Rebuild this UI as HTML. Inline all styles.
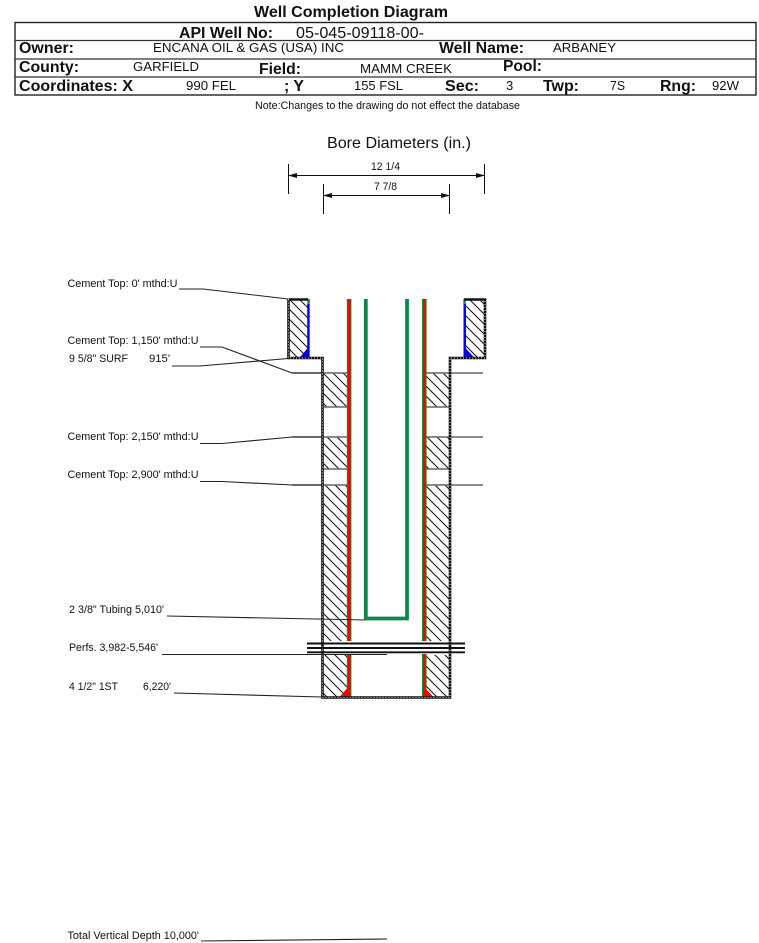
<!DOCTYPE html>
<html><head><meta charset="utf-8"><style>
html,body{margin:0;padding:0;background:#fff}
svg{display:block}
text{font-family:"Liberation Sans",Arial,sans-serif;fill:#111;white-space:pre}
.b{font-weight:bold}
.s{font-size:10.7px}
.m{font-size:13px}
.h{font-size:16px;font-weight:bold}
</style></head><body>
<svg xmlns="http://www.w3.org/2000/svg" width="759" height="943" viewBox="0 0 759 943">
<defs>
<clipPath id="c">
<rect x="288" y="300" width="20" height="58"/><rect x="465" y="300" width="20" height="58"/>
<rect x="323" y="373" width="24" height="34"/><rect x="426" y="373" width="24" height="34"/>
<rect x="323" y="437" width="24" height="32"/><rect x="426" y="437" width="24" height="32"/>
<rect x="323" y="485" width="24" height="156"/><rect x="426" y="485" width="24" height="156"/>
<rect x="323" y="655" width="24" height="42"/><rect x="426" y="655" width="24" height="42"/>
</clipPath>
<marker id="a" markerWidth="9" markerHeight="6" refX="8" refY="3" orient="auto-start-reverse" markerUnits="userSpaceOnUse"><path d="M0 0.5L9 3L0 5.5z" fill="#111"/></marker>
</defs>

<!-- header -->
<text class="b" x="254" y="17" font-size="16" textLength="194" lengthAdjust="spacingAndGlyphs">Well Completion Diagram</text>
<rect x="15" y="22.5" width="741" height="72.5" fill="none" stroke="#222" stroke-width="1.4"/>
<g stroke="#333" stroke-width="1.2"><line x1="15" y1="40.5" x2="756" y2="40.5"/><line x1="15" y1="59" x2="756" y2="59"/><line x1="15" y1="77" x2="756" y2="77"/></g>
<text class="h" x="179" y="38" textLength="94" lengthAdjust="spacingAndGlyphs">API Well No:</text>
<text x="296" y="38" font-size="16" textLength="128" lengthAdjust="spacingAndGlyphs">05-045-09118-00-</text>
<text class="h" x="19" y="53" textLength="55" lengthAdjust="spacingAndGlyphs">Owner:</text>
<text class="m" x="153" y="52" textLength="191" lengthAdjust="spacingAndGlyphs">ENCANA OIL &amp; GAS (USA) INC</text>
<text class="h" x="439" y="53" textLength="85" lengthAdjust="spacingAndGlyphs">Well Name:</text>
<text class="m" x="553" y="52" textLength="63" lengthAdjust="spacingAndGlyphs">ARBANEY</text>
<text class="h" x="19" y="72" textLength="60" lengthAdjust="spacingAndGlyphs">County:</text>
<text class="m" x="133" y="71" textLength="66" lengthAdjust="spacingAndGlyphs">GARFIELD</text>
<text class="h" x="259" y="74" textLength="42" lengthAdjust="spacingAndGlyphs">Field:</text>
<text class="m" x="360" y="73" textLength="92" lengthAdjust="spacingAndGlyphs">MAMM CREEK</text>
<text class="h" x="503" y="71" textLength="39" lengthAdjust="spacingAndGlyphs">Pool:</text>
<text class="h" x="19" y="91" textLength="114" lengthAdjust="spacingAndGlyphs">Coordinates: X</text>
<text class="m" x="186" y="90" textLength="50" lengthAdjust="spacingAndGlyphs">990 FEL</text>
<text class="h" x="284" y="91" textLength="20" lengthAdjust="spacingAndGlyphs">; Y</text>
<text class="m" x="354" y="90" textLength="49" lengthAdjust="spacingAndGlyphs">155 FSL</text>
<text class="h" x="445" y="91" textLength="34" lengthAdjust="spacingAndGlyphs">Sec:</text>
<text class="m" x="506" y="90">3</text>
<text class="h" x="543" y="91" textLength="36" lengthAdjust="spacingAndGlyphs">Twp:</text>
<text class="m" x="610" y="90" textLength="15" lengthAdjust="spacingAndGlyphs">7S</text>
<text class="h" x="660" y="91" textLength="36" lengthAdjust="spacingAndGlyphs">Rng:</text>
<text class="m" x="712" y="90" textLength="27" lengthAdjust="spacingAndGlyphs">92W</text>
<text class="s" x="255" y="109" textLength="265" lengthAdjust="spacingAndGlyphs">Note:Changes to the drawing do not effect the database</text>

<!-- bore diameters -->
<text x="327" y="148" font-size="16" textLength="144" lengthAdjust="spacingAndGlyphs">Bore Diameters (in.)</text>
<text class="s" x="371" y="170" textLength="29" lengthAdjust="spacingAndGlyphs">12 1/4</text>
<text class="s" x="374" y="190" textLength="23" lengthAdjust="spacingAndGlyphs">7 7/8</text>
<g stroke="#111" stroke-width="1" fill="none">
<line x1="288.5" y1="164" x2="288.5" y2="194"/><line x1="484.5" y1="164" x2="484.5" y2="194"/>
<line x1="323.5" y1="184" x2="323.5" y2="214"/><line x1="449.5" y1="184" x2="449.5" y2="214"/>
<line x1="289" y1="175.5" x2="484" y2="175.5" marker-start="url(#a)" marker-end="url(#a)"/>
<line x1="324" y1="195.5" x2="449" y2="195.5" marker-start="url(#a)" marker-end="url(#a)"/>
</g>

<!-- hatches -->
<path clip-path="url(#c)" fill="none" stroke="#111" stroke-width="1" d="M-111 299l398 398M-101 299l398 398M-91 299l398 398M-81 299l398 398M-71 299l398 398M-61 299l398 398M-51 299l398 398M-41 299l398 398M-31 299l398 398M-21 299l398 398M-11 299l398 398M-1 299l398 398M9 299l398 398M19 299l398 398M29 299l398 398M39 299l398 398M49 299l398 398M59 299l398 398M69 299l398 398M79 299l398 398M89 299l398 398M99 299l398 398M109 299l398 398M119 299l398 398M129 299l398 398M139 299l398 398M149 299l398 398M159 299l398 398M169 299l398 398M179 299l398 398M189 299l398 398M199 299l398 398M209 299l398 398M219 299l398 398M229 299l398 398M239 299l398 398M249 299l398 398M259 299l398 398M269 299l398 398M279 299l398 398M289 299l398 398M299 299l398 398M309 299l398 398M319 299l398 398M329 299l398 398M339 299l398 398M349 299l398 398M359 299l398 398M369 299l398 398M379 299l398 398M389 299l398 398M399 299l398 398M409 299l398 398M419 299l398 398M429 299l398 398M439 299l398 398M449 299l398 398M459 299l398 398M469 299l398 398M479 299l398 398"/>
<g stroke="#666" stroke-width="1.5">
<line x1="292" y1="373" x2="347" y2="373"/><line x1="426" y1="373" x2="483" y2="373"/>
<line x1="322" y1="407" x2="347" y2="407"/><line x1="426" y1="407" x2="450" y2="407"/>
<line x1="292" y1="437" x2="347" y2="437"/><line x1="426" y1="437" x2="483" y2="437"/>
<line x1="322" y1="469" x2="347" y2="469"/><line x1="426" y1="469" x2="450" y2="469"/>
<line x1="292" y1="485" x2="347" y2="485"/><line x1="426" y1="485" x2="483" y2="485"/>
</g>

<!-- surface casing shoe and inner strings -->
<g fill="#1a8a30">
<rect x="307.3" y="299" width="2.5" height="59"/><rect x="463.3" y="299" width="2.5" height="59"/>
<rect x="346.8" y="299" width="4.6" height="342"/><rect x="422" y="299" width="4.6" height="342"/>
<rect x="346.8" y="654" width="4.6" height="43"/><rect x="422" y="654" width="4.6" height="43"/>
</g>
<g fill="#0000e6">
<rect x="307.3" y="304" width="2" height="54"/><rect x="464" y="304" width="2" height="54"/>
<path d="M299.5 358L308 347.5V358z"/><path d="M465 347.5L474.5 358H465z"/>
</g>
<g fill="#f40000">
<rect x="348" y="299" width="2.4" height="342"/><rect x="423.2" y="299" width="2.4" height="342"/>
<rect x="348" y="654" width="2.4" height="43"/><rect x="423.2" y="654" width="2.4" height="43"/>
<path d="M339.5 697L349 686V697z"/><path d="M423 686L433.5 697H423z"/>
</g>
<path d="M365.8 299V618.5H407V299" fill="none" stroke="#0a8a4a" stroke-width="3.8"/>

<!-- casing walls -->
<g fill="none">
<path d="M288.5 299.5V358H322.5V697.5H450V358H485V299.5H464M288.5 299.5H308" stroke="#111" stroke-width="2.6"/>
<path d="M288.5 299.5V358H322.5V697.5H450V358H485V299.5" stroke="#ddd" stroke-width="1" stroke-dasharray="1 2"/>
</g>

<!-- perforations -->
<g stroke="#111" stroke-width="1.9">
<line x1="307" y1="643.5" x2="465" y2="643.5"/><line x1="307" y1="648" x2="465" y2="648"/><line x1="307" y1="652.3" x2="465" y2="652.3"/>
</g>

<!-- leaders -->
<g fill="none" stroke="#222" stroke-width="1.1">
<polyline points="179,289 203,289 288,299"/>
<polyline points="200,347 222,347 292,373 322,373"/>
<polyline points="172,366 200,366 288,358.5"/>
<polyline points="200,443.5 222,443.5 292,437 322,437"/>
<polyline points="200,481.5 222,481.5 292,485 322,485"/>
<line x1="167" y1="616" x2="365" y2="620"/>
<line x1="162" y1="654.5" x2="387" y2="654.5"/>
<line x1="174" y1="693" x2="322" y2="697"/>
<line x1="201" y1="941" x2="387" y2="939"/>
</g>

<!-- labels -->
<g>
<text class="s" x="67.5" y="287" textLength="110" lengthAdjust="spacingAndGlyphs">Cement Top: 0' mthd:U</text>
<text class="s" x="67.5" y="344" textLength="131" lengthAdjust="spacingAndGlyphs">Cement Top: 1,150' mthd:U</text>
<text class="s" x="69" y="362" textLength="59" lengthAdjust="spacingAndGlyphs">9 5/8" SURF</text>
<text class="s" x="149" y="362" textLength="21" lengthAdjust="spacingAndGlyphs">915'</text>
<text class="s" x="67.5" y="440" textLength="131" lengthAdjust="spacingAndGlyphs">Cement Top: 2,150' mthd:U</text>
<text class="s" x="67.5" y="478" textLength="131" lengthAdjust="spacingAndGlyphs">Cement Top: 2,900' mthd:U</text>
<text class="s" x="69" y="613" textLength="95" lengthAdjust="spacingAndGlyphs">2 3/8" Tubing 5,010'</text>
<text class="s" x="69" y="651" textLength="89" lengthAdjust="spacingAndGlyphs">Perfs. 3,982-5,546'</text>
<text class="s" x="69" y="690" textLength="49" lengthAdjust="spacingAndGlyphs">4 1/2" 1ST</text>
<text class="s" x="143" y="690" textLength="28" lengthAdjust="spacingAndGlyphs">6,220'</text>
<text class="s" x="67.5" y="939" textLength="131.5" lengthAdjust="spacingAndGlyphs">Total Vertical Depth 10,000'</text>
</g>
</svg>
</body></html>
